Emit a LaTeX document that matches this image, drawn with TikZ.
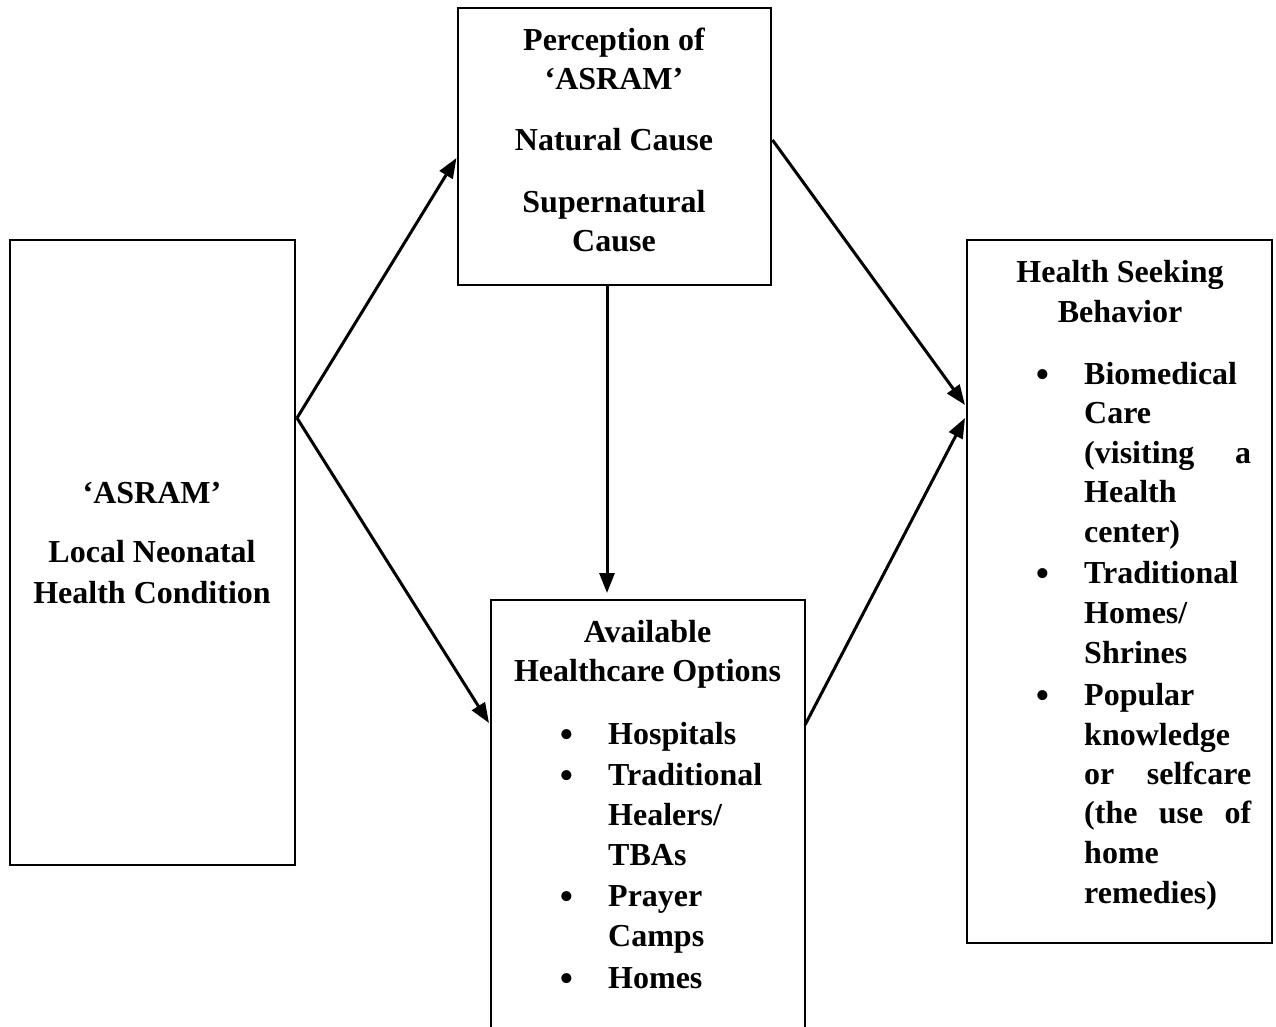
\documentclass[tikz,border=0pt]{standalone}
\usepackage{fontspec}
\setmainfont{Liberation Serif}
\usetikzlibrary{arrows.meta,calc}
\begin{document}
\begin{tikzpicture}[x=1pt,y=-1pt,
  box/.style={draw,line width=2.5pt,inner sep=0pt,outer sep=0pt},
  arr/.style={line width=3pt,-{Triangle[length=20pt,width=15pt]}},
  txt/.style={inner sep=0pt,anchor=base,font=\fontsize{32}{39.5}\selectfont\bfseries},
  ltxt/.style={txt,anchor=base west},
  bul/.style={inner sep=0pt,anchor=base,font=\fontsize{42}{42}\selectfont}]
\useasboundingbox (0,0) rectangle (1276,1027);
\clip (0,0) rectangle (1276,1027);
% boxes
\node[box,minimum width=285,minimum height=625] (L) at (152.5,552.5) {};
\node[box,minimum width=313,minimum height=277] (T) at (614.5,146.5) {};
\node[box,minimum width=314,minimum height=460] (B) at (648,830) {};
\node[box,minimum width=305,minimum height=703] (R) at (1119.5,591.5) {};
% left text
\node[txt] (l1) at (152,503) {‘ASRAM’};
\node[txt] (l2) at (152,562) {Local Neonatal};
\node[txt] (l3) at (152,603) {Health Condition};
% top text
\node[txt] (t1) at (614,51) {Perception of};
\node[txt] (t2) at (614,90) {‘ASRAM’};
\node[txt] (t3) at (614,151) {Natural Cause};
\node[txt] (t4) at (614,212) {Supernatural};
\node[txt] (t5) at (614,251) {Cause};
% bottom text
\node[txt] (b1) at (647.5,642) {Available};
\node[txt] (b2) at (647.5,681) {Healthcare Options};
\node[bul] (bb1) at (567,748) {•};
\node[ltxt] (b3) at (608,744) {Hospitals};
\node[bul] (bb2) at (567,789) {•};
\node[ltxt] (b4) at (608,785) {Traditional};
\node[ltxt] (b5) at (608,825) {Healers/};
\node[ltxt] (b6) at (608,865) {TBAs};
\node[bul] (bb3) at (567,910) {•};
\node[ltxt] (b7) at (608,906) {Prayer};
\node[ltxt] (b8) at (608,946) {Camps};
\node[bul] (bb4) at (567,992) {•};
\node[ltxt] (b9) at (608,988) {Homes};
% right text
\node[txt] (r1) at (1120,282) {Health Seeking};
\node[txt] (r2) at (1120,322) {Behavior};
\node[bul] (rb1) at (1043,388) {•};
\node[ltxt] (r3) at (1084,384) {Biomedical};
\node[ltxt] (r4) at (1084,423) {Care};
\node[ltxt] (r5) at (1084,463) {\hbox to 167pt{(visiting\hfill a}};
\node[ltxt] (r6) at (1084,502) {Health};
\node[ltxt] (r7) at (1084,542) {center)};
\node[bul] (rb2) at (1043,587) {•};
\node[ltxt] (r8) at (1084,583) {Traditional};
\node[ltxt] (r9) at (1084,623) {Homes/};
\node[ltxt] (r10) at (1084,663) {Shrines};
\node[bul] (rb3) at (1043,709) {•};
\node[ltxt] (r11) at (1084,705) {Popular};
\node[ltxt] (r12) at (1084,745) {knowledge};
\node[ltxt] (r13) at (1084,784) {\hbox to 167pt{or\hfill selfcare}};
\node[ltxt] (r14) at (1084,823) {\hbox to 167pt{(the\hfill use\hfill of}};
\node[ltxt] (r15) at (1084,863) {home};
\node[ltxt] (r16) at (1084,903) {remedies)};
% connector points
\coordinate (s) at ([xshift=2pt,yshift=134.5pt]L.east);
\coordinate (tw) at ([xshift=-1.5pt,yshift=-11.5pt]T.west);
\coordinate (bw) at ([xshift=-2pt,yshift=107pt]B.west);
\coordinate (ts) at ([xshift=-7.5pt]T.south);
\coordinate (bn) at ([xshift=-41pt,yshift=7pt]B.north);
\coordinate (te) at ([xshift=1.5pt,yshift=6.5pt]T.east);
\coordinate (be) at ([yshift=105pt]B.east);
\coordinate (rw1) at ([xshift=-2pt,yshift=186.5pt]R.west);
\coordinate (rw2) at ([xshift=-2pt,yshift=173.5pt]R.west);
% arrows
\draw[arr] (s) -- (tw);
\draw[arr] (s) -- (bw);
\draw[arr] (ts) -- (bn);
\draw[arr] (te) -- (rw1);
\draw[arr] (be) -- (rw2);
\end{tikzpicture}
\end{document}
